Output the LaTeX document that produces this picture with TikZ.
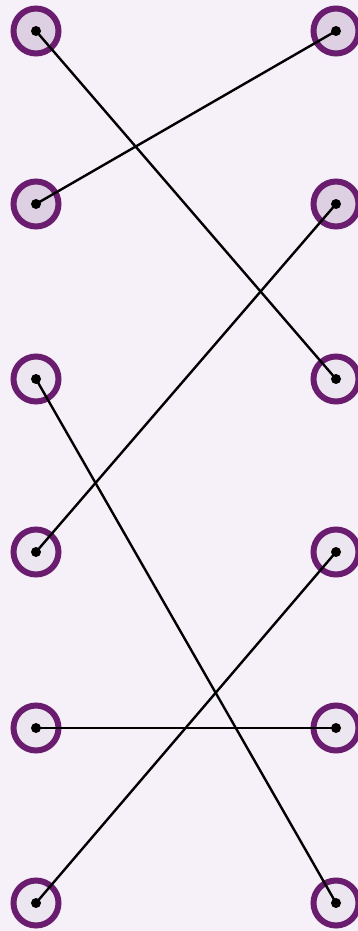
\documentclass[tikz,border=0pt]{standalone}
\usepackage{amsmath,amssymb,amsfonts}

\definecolor{ringpurple}{RGB}{106,28,110}
\definecolor{bgpaper}{RGB}{246,241,248}
\definecolor{filldark}{RGB}{220,208,226}
\definecolor{filllight}{RGB}{236,230,240}

\begin{document}
\begin{tikzpicture}[
    x=1pt, y=-1pt,
    vertex/.style={draw=ringpurple, circle, line width=6pt,
                   minimum size=45pt, inner sep=0pt},
    dot/.style={fill=black, circle, minimum size=10pt, inner sep=0pt},
    edge/.style={line width=2.4pt, black}
]
    \fill[bgpaper] (0,0) rectangle (358,931);
    \useasboundingbox (0,0) rectangle (358,931);

    \node[vertex, fill=filldark] (l1) at (36, 31) {};
    \node[vertex, fill=filldark] (l2) at (36, 204) {};
    \node[vertex, fill=filllight] (l3) at (36, 379) {};
    \node[vertex, fill=filllight] (l4) at (36, 552) {};
    \node[vertex, fill=filllight] (l5) at (36, 728) {};
    \node[vertex, fill=filllight] (l6) at (36, 903) {};

    \node[vertex, fill=filldark] (r1) at (336, 31) {};
    \node[vertex, fill=filldark] (r2) at (336, 204) {};
    \node[vertex, fill=filllight] (r3) at (336, 379) {};
    \node[vertex, fill=filllight] (r4) at (336, 552) {};
    \node[vertex, fill=filllight] (r5) at (336, 728) {};
    \node[vertex, fill=filllight] (r6) at (336, 903) {};

    \draw[edge] (l1.center) -- (r3.center);
    \draw[edge] (l2.center) -- (r1.center);
    \draw[edge] (l3.center) -- (r6.center);
    \draw[edge] (l4.center) -- (r2.center);
    \draw[edge] (l5.center) -- (r5.center);
    \draw[edge] (l6.center) -- (r4.center);

    \foreach \n in {l1,l2,l3,l4,l5,l6,r1,r2,r3,r4,r5,r6}
        \node[dot] (d\n) at (\n) {};
\end{tikzpicture}
\end{document}
